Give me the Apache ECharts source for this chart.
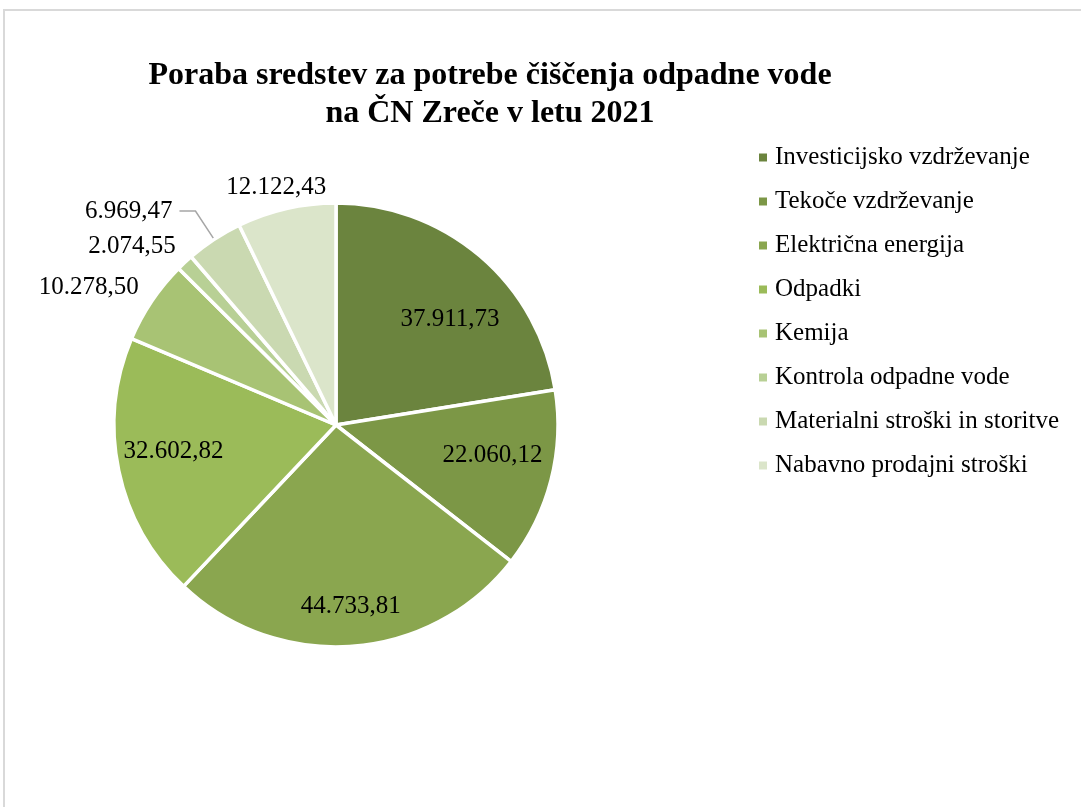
<!DOCTYPE html>
<html>
<head>
<meta charset="utf-8">
<script src="https://cdn.jsdelivr.net/npm/echarts@6/dist/echarts.min.js"></script>
<style>
  html, body { margin: 0; padding: 0; background: #ffffff; }
  #chart { width: 1081px; height: 807px; }
</style>
</head>
<body>
<div id="chart"></div>
<script>
// ---- data ----
const titleLines = ['Poraba sredstev za potrebe čiščenja odpadne vode', 'na ČN Zreče v letu 2021'];
const categories = [
  'Investicijsko vzdrževanje',
  'Tekoče vzdrževanje',
  'Električna energija',
  'Odpadki',
  'Kemija',
  'Kontrola odpadne vode',
  'Materialni stroški in storitve',
  'Nabavno prodajni stroški'
];
const values = [37911.73, 22060.12, 44733.81, 32602.82, 10278.50, 2074.55, 6969.47, 12122.43];

// ---- styles ----
const colors = ['#6b843e', '#7c9746', '#8aa64f', '#9bbb59', '#a8c374', '#b8d095', '#cad9b1', '#dbe5ca'];
const labelPositions = ['inside', 'inside', 'inside', 'inside', 'outside', 'outside', 'outside', 'outside'];
const showLeader = [false, false, false, false, false, false, true, false];
const labelOffsets = [[40, -19], [46, 2], [6, 68], [-51, 3], [-8, -14], [-4, -16], null, [45, -21]];

function fmt(v) {
  const parts = v.toFixed(2).split('.');
  const intPart = parts[0].replace(/\B(?=(\d{3})+(?!\d))/g, '.');
  return intPart + ',' + parts[1];
}

const chart = echarts.init(document.getElementById('chart'), null, { renderer: 'canvas' });
const FONT = '"Liberation Serif", "Times New Roman", serif';

const pieData = categories.map(function (name, i) {
  const item = {
    name: name,
    value: values[i],
    itemStyle: { color: colors[i] },
    label: { position: labelPositions[i] },
    labelLine: { show: showLeader[i] }
  };
  if (showLeader[i]) {
    item.labelLine.length = 34;
    item.labelLine.length2 = 16;
    item.label.padding = [0, 2, 14, 0];
  }
  return item;
});

chart.setOption({
  backgroundColor: '#ffffff',
  animation: false,
  title: {
    text: titleLines.join('\n'),
    left: 490,
    top: 57,
    padding: 0,
    textAlign: 'center',
    textStyle: {
      fontFamily: FONT,
      fontWeight: 'bold',
      fontSize: 32,
      lineHeight: 38,
      color: '#000000'
    }
  },
  graphic: [{
    type: 'rect',
    shape: { x: 4, y: 10, width: 1200, height: 900 },
    style: { fill: 'none', stroke: '#d9d9d9', lineWidth: 2 },
    silent: true,
    z: -10
  }],
  legend: {
    orient: 'vertical',
    left: 759,
    top: 145,
    padding: 0,
    itemWidth: 8,
    itemHeight: 8,
    itemGap: 19,
    icon: 'rect',
    itemStyle: { borderWidth: 0 },
    data: categories,
    textStyle: {
      fontFamily: FONT,
      fontSize: 25,
      lineHeight: 25,
      color: '#000000',
      padding: [0, 0, 0, 3]
    }
  },
  series: [{
    type: 'pie',
    center: [336, 425],
    radius: [0, 222],
    startAngle: 90,
    clockwise: true,
    avoidLabelOverlap: false,
    itemStyle: { borderColor: '#ffffff', borderWidth: 3.5 },
    label: {
      show: true,
      fontFamily: FONT,
      fontSize: 25,
      color: '#000000',
      formatter: function (p) { return fmt(p.value); }
    },
    labelLine: {
      show: false,
      length: 0,
      length2: 0,
      lineStyle: { color: '#a6a6a6', width: 1.5 }
    },
    labelLayout: function (p) {
      const o = labelOffsets[p.dataIndex];
      return o ? { dx: o[0], dy: o[1] } : {};
    },
    emphasis: { disabled: true },
    data: pieData
  }]
});
</script>
</body>
</html>
